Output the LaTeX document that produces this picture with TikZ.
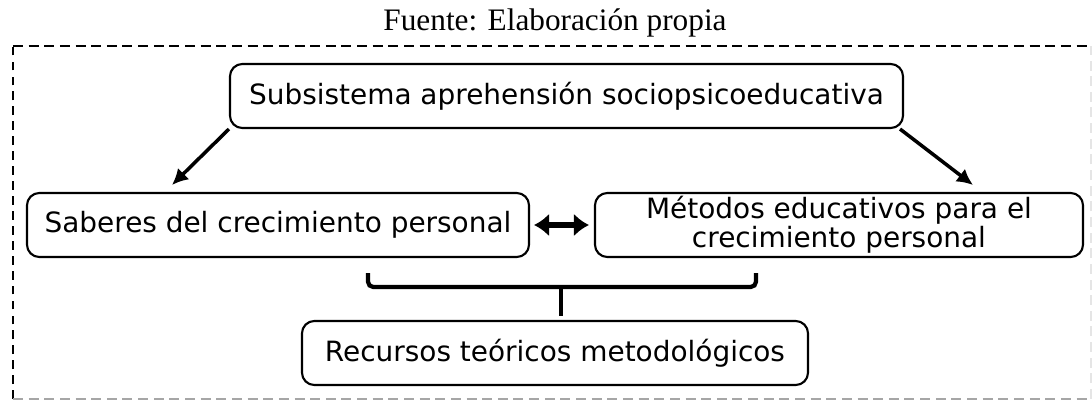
\documentclass[tikz,border=0pt]{standalone}
\usepackage{fontspec}
\setmainfont{Liberation Serif}
\newfontfamily\boxfont{DejaVu Sans}
\usetikzlibrary{arrows.meta}

\begin{document}
\begin{tikzpicture}[
    concept/.style={draw, line width=1.2pt, rounded corners=7pt, inner sep=0pt,
        minimum height=1.28cm, align=center,
        font=\boxfont\fontsize{15.9}{14.2}\selectfont},
    arr/.style={line width=2pt, -{Latex[length=0.32cm, width=0.32cm]}},
    bracket/.style={line width=2.4pt, rounded corners=3pt}]
    \useasboundingbox (0,0) rectangle (21.84,8.04);
    % frame
    \draw[line width=1.4pt, dash pattern=on 5pt off 3.5pt] (0.26,0.06) -- (0.26,7.12);
    \draw[line width=1.3pt, dash pattern=on 5.7pt off 3.2pt] (0.26,7.12) -- (21.82,7.12);
    \draw[line width=1.1pt, gray!70, dash pattern=on 5.7pt off 3.2pt] (0.26,0.06) -- (21.82,0.06);
    \draw[line width=0.8pt, gray!20, dash pattern=on 5.7pt off 3.2pt] (21.82,0.06) -- (21.82,7.12);
    \node[anchor=base, font=\fontsize{17.8}{20}\selectfont] (src) at (11.1,7.44) {Fuente: Elaboración propia};
    % nodes
    \node[concept, minimum width=13.46cm] (sub) at (11.33,6.12) {Subsistema aprehensión sociopsicoeducativa};
    \node[concept, minimum width=10.04cm] (sab) at (5.56,3.54) {Saberes del crecimiento personal};
    \node[concept, minimum width=9.76cm] (met) at (16.78,3.54) {Métodos educativos para el\\crecimiento personal};
    \node[concept, minimum width=10.12cm] (rec) at (11.1,0.98) {Recursos teóricos metodológicos};
    % arrows
    \coordinate (sabin) at (3.44,4.34);
    \coordinate (metin) at (19.46,4.34);
    \draw[arr] (sub.south west) -- (sabin);
    \draw[arr] ([xshift=-0.08cm]sub.south east) -- (metin);
    \draw[line width=3.6pt, {Latex[length=0.3cm, width=0.46cm]}-{Latex[length=0.3cm, width=0.46cm]},
        shorten <=0.08cm, shorten >=0.1cm] (sab.east) -- (met.west);
    % bracket
    \coordinate (bl) at (7.36,2.58);
    \coordinate (br) at (15.12,2.58);
    \coordinate (bm) at (11.22,2.3);
    \draw[bracket] (bl) -- (7.36,2.3) -- (15.12,2.3) -- (br);
    \draw[line width=2.4pt] (bm) -- (11.22,1.72);
\end{tikzpicture}
\end{document}
